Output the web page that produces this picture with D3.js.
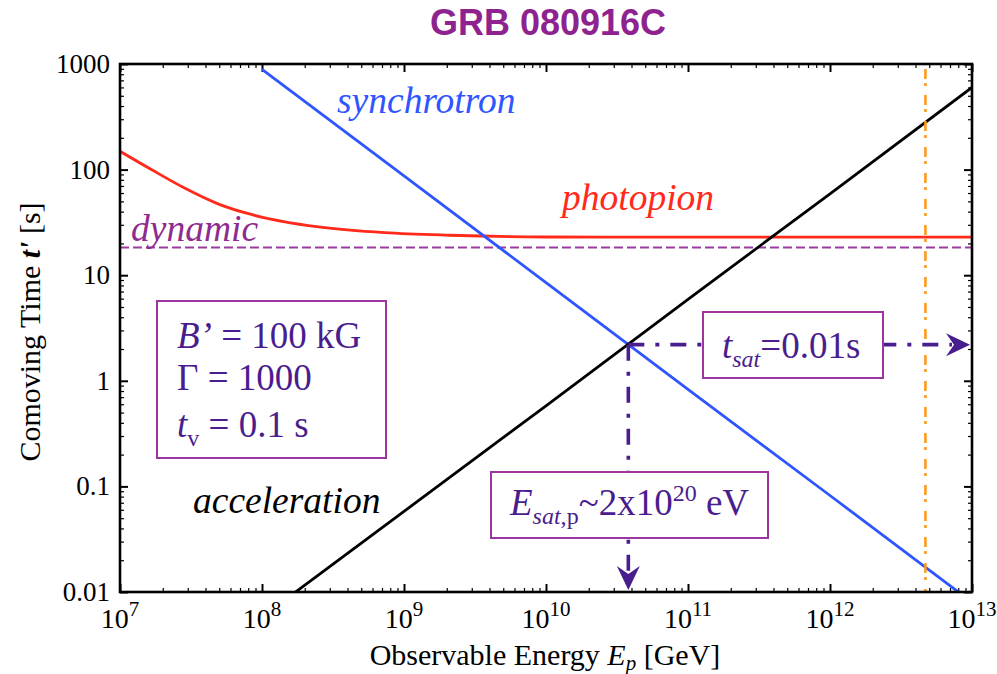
<!DOCTYPE html>
<html>
<head>
<meta charset="utf-8">
<script src="https://cdn.jsdelivr.net/npm/d3@7"></script>
<style>
  body { margin: 0; background: #fff; }
  text { font-family: "Liberation Serif", "Times New Roman", serif; }
</style>
</head>
<body>
<svg id="chart" width="997" height="674"></svg>
<script>
// ---- axis ticks ----
const energyTicks = [1e7, 1e8, 1e9, 1e10, 1e11, 1e12, 1e13];
const energyExponents = ["7", "8", "9", "10", "11", "12", "13"];
const timeTicks = [0.01, 0.1, 1, 10, 100, 1000];
const timeTickLabels = ["0.01", "0.1", "1", "10", "100", "1000"];

// ---- time scales (comoving frame, seconds) vs observed proton energy (GeV) ----
const syncE = [1e8, 1e9, 1e10, 1e11, 1e12, 1e13];
const syncT = [890, 87, 8.5, 0.83, 0.082, 0.008];

const accE = [1e8, 1e9, 1e10, 1e11, 1e12, 1e13];
const accT = [0.0058, 0.058, 0.58, 5.9, 59, 600];

const photoE = [1e7, 1.65e7, 2.87e7, 4.9e7, 8.4e7, 1.45e8, 2.5e8, 7.3e8, 2.1e9, 1e10, 1e11, 1e13];
const photoT = [149, 100.7, 66.5, 47.4, 37.6, 32.0, 28.7, 25.3, 23.9, 23.0, 22.9, 22.9];

const dynamicT = 18.3;          // dynamical time
const cutoffE = 4.7e12;         // vertical orange marker
const satE = 3.8e10;            // saturation energy (acceleration = synchrotron)
const satT = 2.2;               // saturation time

// ---- layout ----
const svg = d3.select("#chart");
const pLeft = 120, pRight = 972, pTop = 64, pBottom = 592;

const x = d3.scaleLog().domain([1e7, 1e13]).range([pLeft, pRight]);
const y = d3.scaleLog().domain([0.01, 1000]).range([pBottom, pTop]);

const purpleDark = "#4a1d8e";
const purpleBox = "#9b35a0";

// minor ticks (2..9 per decade)
const minorE = [];
for (let k = 7; k < 13; k++) for (let m = 2; m <= 9; m++) minorE.push(m * Math.pow(10, k));
const minorT = [];
for (let k = -2; k < 3; k++) for (let m = 2; m <= 9; m++) minorT.push(m * Math.pow(10, k));

// clip region for curves
svg.append("defs").append("clipPath").attr("id", "plotClip")
  .append("rect").attr("x", pLeft).attr("y", pTop)
  .attr("width", pRight - pLeft).attr("height", pBottom - pTop);

// ---- axes: ticks inward on all four sides ----
function drawAxis(axisGen, tx, ty, values, size, width) {
  const g = svg.append("g").attr("transform", `translate(${tx},${ty})`)
    .call(axisGen.tickValues(values).tickSize(-size).tickFormat(""));
  g.select(".domain").remove();
  g.selectAll(".tick line").attr("stroke", "#000").attr("stroke-width", width);
}
drawAxis(d3.axisBottom(x), 0, pBottom, energyTicks, 8, 2);
drawAxis(d3.axisBottom(x), 0, pBottom, minorE, 4, 1.2);
drawAxis(d3.axisTop(x), 0, pTop, energyTicks, 8, 2);
drawAxis(d3.axisTop(x), 0, pTop, minorE, 4, 1.2);
drawAxis(d3.axisLeft(y), pLeft, 0, timeTicks, 8, 2);
drawAxis(d3.axisLeft(y), pLeft, 0, minorT, 4, 1.2);
drawAxis(d3.axisRight(y), pRight, 0, timeTicks, 8, 2);
drawAxis(d3.axisRight(y), pRight, 0, minorT, 4, 1.2);

// ---- curves ----
const plot = svg.append("g").attr("clip-path", "url(#plotClip)");
const line = d3.line().x(d => x(d[0])).y(d => y(d[1]));
const zip = (a, b) => a.map((v, i) => [v, b[i]]);

// dynamical time (dashed)
plot.append("path")
  .attr("d", line([[1e7, dynamicT], [1e13, dynamicT]]))
  .attr("fill", "none").attr("stroke", "#9b3aa0").attr("stroke-width", 2.2)
  .attr("stroke-dasharray", "9,4");

// photopion
plot.append("path")
  .attr("d", d3.line().x(d => x(d[0])).y(d => y(d[1])).curve(d3.curveMonotoneX)(zip(photoE, photoT)))
  .attr("fill", "none").attr("stroke", "#ff2a1a").attr("stroke-width", 2.8);

// synchrotron
plot.append("path")
  .attr("d", line(zip(syncE, syncT)))
  .attr("fill", "none").attr("stroke", "#2f55ff").attr("stroke-width", 2.8);

// acceleration
plot.append("path")
  .attr("d", line(zip(accE, accT)))
  .attr("fill", "none").attr("stroke", "#000").attr("stroke-width", 2.8);

// orange vertical marker
plot.append("path")
  .attr("d", line([[cutoffE, 1000], [cutoffE, 0.01]]))
  .attr("fill", "none").attr("stroke", "#ff9a1e").attr("stroke-width", 2.6)
  .attr("stroke-dasharray", "0,5,10,4,3,4");

// ---- saturation arrows ----
const sx = x(satE), sy = y(satT);
const arrowDash = "16,11,4,11";
svg.append("line").attr("x1", sx).attr("y1", sy).attr("x2", pRight - 20).attr("y2", sy)
  .attr("stroke", purpleDark).attr("stroke-width", 3.6).attr("stroke-dasharray", arrowDash);
svg.append("line").attr("x1", sx).attr("y1", sy).attr("x2", sx).attr("y2", pBottom - 20)
  .attr("stroke", purpleDark).attr("stroke-width", 3.6).attr("stroke-dasharray", arrowDash);

const head = "M0,0 L-24,-11.5 L-16,0 L-24,11.5 Z";
svg.append("path").attr("d", head).attr("fill", purpleDark)
  .attr("transform", `translate(${pRight - 2},${sy})`);
svg.append("path").attr("d", head).attr("fill", purpleDark)
  .attr("transform", `translate(${sx},${pBottom - 2}) rotate(90)`);

// ---- frame ----
svg.append("rect").attr("x", pLeft).attr("y", pTop)
  .attr("width", pRight - pLeft).attr("height", pBottom - pTop)
  .attr("fill", "none").attr("stroke", "#000").attr("stroke-width", 2.6);

// ---- tick labels ----
energyTicks.forEach((v, i) => {
  const t = svg.append("text").attr("x", x(v)).attr("y", 628)
    .attr("text-anchor", "middle").attr("font-size", 28).attr("fill", "#000");
  t.append("tspan").text("10");
  t.append("tspan").attr("dy", -12).attr("font-size", 21).text(energyExponents[i]);
});
timeTicks.forEach((v, i) => {
  svg.append("text").attr("x", 110).attr("y", y(v) + 9)
    .attr("text-anchor", "end").attr("font-size", 27).attr("fill", "#000")
    .text(timeTickLabels[i]);
});

// ---- axis titles ----
const xt = svg.append("text").attr("x", 545).attr("y", 665)
  .attr("text-anchor", "middle").attr("font-size", 30).attr("fill", "#000");
xt.append("tspan").text("Observable Energy ");
xt.append("tspan").attr("font-style", "italic").text("E");
xt.append("tspan").attr("font-style", "italic").attr("font-size", 21).attr("dy", 5).text("p");
xt.append("tspan").attr("dy", -5).text(" [GeV]");

const yt = svg.append("text").attr("transform", "translate(40,332) rotate(-90)")
  .attr("text-anchor", "middle").attr("font-size", 30).attr("fill", "#000");
yt.append("tspan").text("Comoving Time ");
yt.append("tspan").attr("font-style", "italic").attr("font-weight", "bold").text("t'");
yt.append("tspan").text(" [s]");

// ---- title ----
svg.append("text").attr("x", 548).attr("y", 35).attr("text-anchor", "middle")
  .attr("font-weight", "bold").attr("font-size", 36).attr("fill", "#8e2390")
  .style("font-family", "'Liberation Sans', Arial, sans-serif")
  .text("GRB 080916C");

// ---- curve labels ----
function curveLabel(txt, lx, ly, color) {
  svg.append("text").attr("x", lx).attr("y", ly).attr("font-size", 37.5)
    .attr("font-style", "italic").attr("fill", color).text(txt);
}
curveLabel("synchrotron", 337, 113, "#2f55ff");
curveLabel("photopion", 562, 210, "#ff2a1a");
curveLabel("dynamic", 131, 241, "#8e2a90");
curveLabel("acceleration", 193, 513, "#000");

// ---- annotation boxes ----
function box(bx, by, bw, bh) {
  svg.append("rect").attr("x", bx).attr("y", by).attr("width", bw).attr("height", bh)
    .attr("fill", "#fff").attr("stroke", purpleBox).attr("stroke-width", 2);
}

// parameters
box(157, 301, 229, 157);
const p1 = svg.append("text").attr("x", 177).attr("y", 348).attr("font-size", 37).attr("fill", purpleDark);
p1.append("tspan").attr("font-style", "italic").text("B’");
p1.append("tspan").text(" = 100 kG");
svg.append("text").attr("x", 177).attr("y", 390).attr("font-size", 37).attr("fill", purpleDark)
  .text("Γ = 1000");
const p3 = svg.append("text").attr("x", 177).attr("y", 437).attr("font-size", 37).attr("fill", purpleDark);
p3.append("tspan").attr("font-style", "italic").text("t");
p3.append("tspan").attr("font-size", 24).attr("dy", 9).text("v");
p3.append("tspan").attr("dy", -9).text(" = 0.1 s");

// saturation time
box(703, 312, 180, 66);
const ts = svg.append("text").attr("x", 722).attr("y", 358).attr("font-size", 37).attr("fill", purpleDark);
ts.append("tspan").attr("font-style", "italic").text("t");
ts.append("tspan").attr("font-style", "italic").attr("font-size", 24).attr("dy", 9).text("sat");
ts.append("tspan").attr("dy", -9).text("=0.01s");

// saturation energy
box(491, 472, 277, 66);
const es = svg.append("text").attr("x", 510).attr("y", 515).attr("font-size", 37).attr("fill", purpleDark);
es.append("tspan").attr("font-style", "italic").text("E");
es.append("tspan").attr("font-style", "italic").attr("font-size", 24).attr("dy", 9).text("sat,");
es.append("tspan").attr("font-size", 24).text("p");
es.append("tspan").attr("dy", -9).text("~2x10");
es.append("tspan").attr("font-size", 24).attr("dy", -14).text("20");
es.append("tspan").attr("dy", 14).text(" eV");
</script>
</body>
</html>
